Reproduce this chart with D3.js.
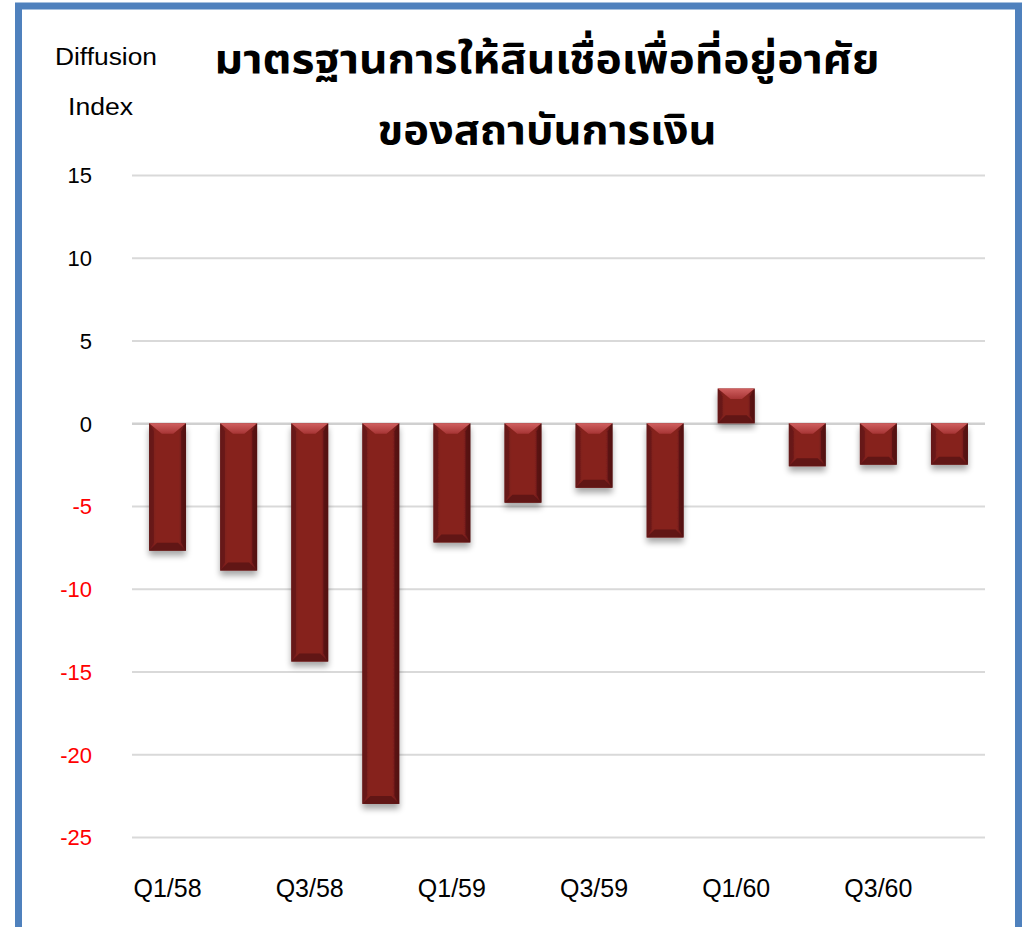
<!DOCTYPE html>
<html>
<head>
<meta charset="utf-8">
<script src="https://cdn.jsdelivr.net/npm/d3@7"></script>
<style>
  html, body { margin: 0; padding: 0; background: #ffffff; }
  svg { display: block; }
</style>
</head>
<body>
<svg id="chart" width="1025" height="927"></svg>
<script>
// ---- data ----
const categories = ["Q1/58","Q2/58","Q3/58","Q4/58","Q1/59","Q2/59","Q3/59","Q4/59","Q1/60","Q2/60","Q3/60","Q4/60"];
const values = [-7.7, -8.9, -14.4, -23.0, -7.2, -4.8, -3.9, -6.9, 2.1, -2.6, -2.5, -2.5];
const yTicks = [15, 10, 5, 0, -5, -10, -15, -20, -25];
const xTickLabels = ["Q1/58","Q3/58","Q1/59","Q3/59","Q1/60","Q3/60"];
const titleLines = ["มาตรฐานการให้สินเชื่อเพื่อที่อยู่อาศัย", "ของสถาบันการเงิน"];
const yAxisTitle = ["Diffusion", "Index"];

const svg = d3.select("#chart");
const plot = { left: 132, right: 985, top: 175, bottom: 837 };

// border frame
svg.append("rect")
  .attr("x", 18.5).attr("y", 6).attr("width", 1000).attr("height", 940)
  .attr("fill", "none").attr("stroke", "#4F81BD").attr("stroke-width", 7);

const defs = svg.append("defs");
const shadow = defs.append("filter").attr("id", "shadow")
  .attr("x", "-30%").attr("y", "-30%").attr("width", "160%").attr("height", "160%");
shadow.append("feGaussianBlur").attr("in", "SourceAlpha").attr("stdDeviation", 3).attr("result", "b");
shadow.append("feOffset").attr("in", "b").attr("dx", 0).attr("dy", 5).attr("result", "o");
shadow.append("feComponentTransfer").attr("in", "o").attr("result", "o2")
  .append("feFuncA").attr("type", "linear").attr("slope", 0.35);
const merge = shadow.append("feMerge");
merge.append("feMergeNode").attr("in", "o2");
merge.append("feMergeNode").attr("in", "SourceGraphic");

const bodyGrad = defs.append("linearGradient").attr("id", "bodyGrad")
  .attr("x1", "0").attr("x2", "1").attr("y1", "0").attr("y2", "0");
bodyGrad.append("stop").attr("offset", "0").attr("stop-color", "#6e1a1a");
bodyGrad.append("stop").attr("offset", "0.2").attr("stop-color", "#86221f");
bodyGrad.append("stop").attr("offset", "0.8").attr("stop-color", "#86221f");
bodyGrad.append("stop").attr("offset", "1").attr("stop-color", "#5e1515");

const topGrad = defs.append("linearGradient").attr("id", "topGrad")
  .attr("x1", "0").attr("x2", "0").attr("y1", "0").attr("y2", "1");
topGrad.append("stop").attr("offset", "0").attr("stop-color", "#d06060");
topGrad.append("stop").attr("offset", "1").attr("stop-color", "#a73535");

// scales
const y = d3.scaleLinear().domain([-25, 15]).range([plot.bottom, plot.top]);
const x = d3.scaleBand().domain(categories).range([plot.left, plot.right]).paddingInner(0.48).paddingOuter(0.24);

// gridlines
const grid = svg.append("g").attr("class", "grid")
  .attr("transform", `translate(${plot.left},0)`)
  .call(d3.axisLeft(y).tickValues(yTicks).tickSize(-(plot.right - plot.left)).tickFormat(""));
grid.select(".domain").remove();
grid.selectAll("line").attr("stroke", "#d9d9d9").attr("stroke-width", 2);
grid.selectAll(".tick").filter(d => d === 0).select("line").attr("stroke", "#d0d0d0").attr("stroke-width", 2.5);

// y tick labels
const yAxis = svg.append("g").attr("transform", `translate(92,0)`)
  .call(d3.axisLeft(y).tickValues(yTicks).tickSize(0).tickPadding(0).tickFormat(d => String(d)));
yAxis.select(".domain").remove();
yAxis.selectAll("text")
  .attr("font-family", "'Liberation Sans', Arial, sans-serif")
  .attr("font-size", 22)
  .attr("fill", d => d < 0 ? "#ff0000" : "#000000")
  .attr("dy", "0.36em");

// x tick labels
const xAxis = svg.append("g").attr("transform", `translate(0,888)`)
  .call(d3.axisBottom(x).tickValues(xTickLabels).tickSize(0).tickPadding(0));
xAxis.select(".domain").remove();
xAxis.selectAll("text")
  .attr("font-family", "'Liberation Sans', Arial, sans-serif")
  .attr("font-size", 25)
  .attr("fill", "#000")
  .attr("dy", "0.36em");

// bars
const bw = x.bandwidth();
const bev = 8;
const bars = svg.append("g").attr("class", "bars");
categories.forEach((c, i) => {
  const v = values[i];
  const x0 = x(c);
  const yTop = Math.min(y(v), y(0));
  const yBot = Math.max(y(v), y(0));
  const h = yBot - yTop;
  const g = bars.append("g");
  g.append("rect").attr("x", x0).attr("y", yTop).attr("width", bw).attr("height", h)
    .attr("fill", "url(#bodyGrad)").attr("filter", "url(#shadow)");
  const b = Math.min(bev, h / 2);
  g.append("path")
    .attr("d", `M${x0},${yTop} L${x0 + bw},${yTop} L${x0 + bw - b * 1.6},${yTop + b * 1.3} L${x0 + b * 1.6},${yTop + b * 1.3} Z`)
    .attr("fill", "url(#topGrad)");
  g.append("path")
    .attr("d", `M${x0},${yBot} L${x0 + bw},${yBot} L${x0 + bw - b},${yBot - b} L${x0 + b},${yBot - b} Z`)
    .attr("fill", "#5a1414").attr("opacity", 0.85);
  g.append("path")
    .attr("d", `M${x0},${yTop} L${x0 + b * 0.6},${yTop + b} L${x0 + b * 0.6},${yBot - b} L${x0},${yBot} Z`)
    .attr("fill", "#5e1616").attr("opacity", 0.6);
  g.append("path")
    .attr("d", `M${x0 + bw},${yTop} L${x0 + bw - b * 0.6},${yTop + b} L${x0 + bw - b * 0.6},${yBot - b} L${x0 + bw},${yBot} Z`)
    .attr("fill", "#4e1010").attr("opacity", 0.7);
});

// title
const tf = "'Noto Sans Thai', 'Noto Sans Thai UI', 'Noto Sans', 'DejaVu Sans', sans-serif";
svg.append("text").attr("x", 547).attr("y", 73).attr("text-anchor", "middle")
  .attr("font-family", tf).attr("font-weight", "bold").attr("font-size", 41)
  .attr("textLength", 665).attr("lengthAdjust", "spacingAndGlyphs")
  .text(titleLines[0]);
svg.append("text").attr("x", 547).attr("y", 144).attr("text-anchor", "middle")
  .attr("font-family", tf).attr("font-weight", "bold").attr("font-size", 41)
  .attr("textLength", 339).attr("lengthAdjust", "spacingAndGlyphs")
  .text(titleLines[1]);

// y axis title
svg.append("text").attr("x", 55).attr("y", 65)
  .attr("font-family", "'Liberation Sans', Arial, sans-serif").attr("font-size", 23)
  .attr("textLength", 102).attr("lengthAdjust", "spacingAndGlyphs")
  .text(yAxisTitle[0]);
svg.append("text").attr("x", 68).attr("y", 115)
  .attr("font-family", "'Liberation Sans', Arial, sans-serif").attr("font-size", 23)
  .attr("textLength", 65).attr("lengthAdjust", "spacingAndGlyphs")
  .text(yAxisTitle[1]);
</script>
</body>
</html>
